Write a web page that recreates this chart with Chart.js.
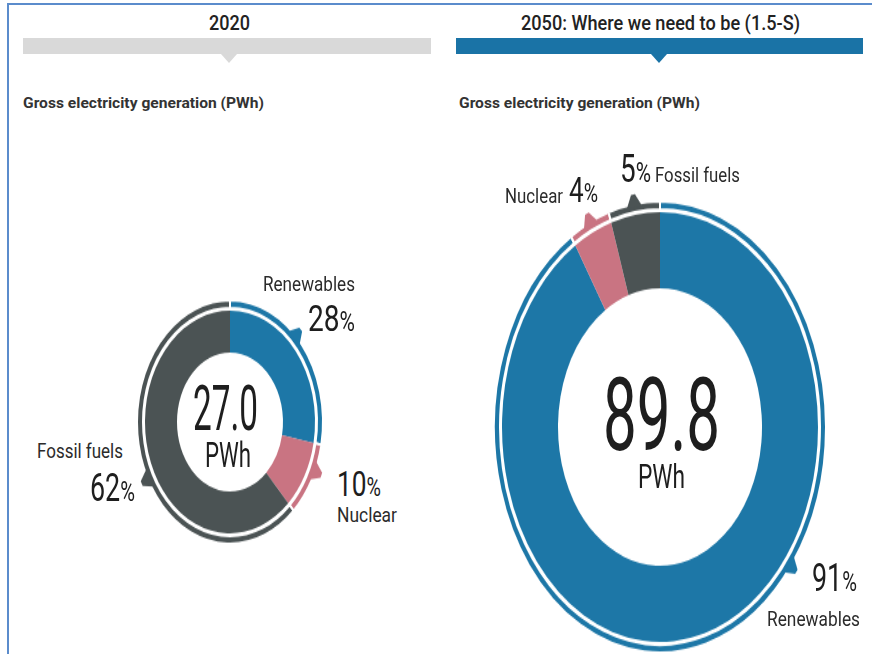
<!doctype html>
<html lang="en">
<head>
  <meta charset="utf-8">
  <title>Gross electricity generation 2020 vs 2050</title>
  <script src="https://cdn.jsdelivr.net/npm/chart.js@4"></script>
  <style>
    body { margin: 0; width: 872px; height: 654px; overflow: hidden; background: #fff; position: relative;
           font-family: Roboto, "Liberation Sans", sans-serif; }
    .frame-left { position: absolute; left: 7px; top: 3px; width: 2px; height: 651px; background: #5b8ccc; }
    .frame-top { position: absolute; left: 7px; top: 3px; width: 865px; height: 2px; background: #5b8ccc; }
    .bar { position: absolute; top: 38px; height: 16px; }
    .tri { position: absolute; top: 54px; width: 16px; height: 9px; clip-path: polygon(0 0, 100% 0, 50% 100%); }
    .grey { background: #d9d9d9; }
    .blue { background: #1a73a6; }
    .wrap { position: absolute; transform-origin: 0 0; }
    .lbl { position: absolute; white-space: nowrap; line-height: 1; color: #2b2b2b; transform-origin: 0 0; }
    .lbl .pc { font-size: 0.75em; }
    .title { font-weight: 500; color: #222; }
    .sub { font-weight: bold; color: #333; }
    .num { color: #1e1e1e; }
  </style>
</head>
<body>
  <div class="frame-top"></div>
  <div class="frame-left"></div>

  <div class="bar grey" style="left:23px; width:408px"></div>
  <div class="tri grey" style="left:221px"></div>
  <div class="bar blue" style="left:456px; width:407px"></div>
  <div class="tri blue" style="left:651px"></div>

  <div class="wrap" style="left:130px; top:291px; transform:scaleY(1.31)">
    <canvas id="c2020" width="200" height="200"></canvas>
  </div>
  <div class="wrap" style="left:485px; top:189px; transform:scaleY(1.36)">
    <canvas id="c2050" width="350" height="350"></canvas>
  </div>

  <script>
    const categories = ['Renewables', 'Nuclear', 'Fossil fuels'];
    const share2020 = [28, 10, 62];
    const share2050 = [91, 4, 5];
    const total2020 = 27.0;
    const total2050 = 89.8;
    const unit = 'PWh';
    const years = ['2020', '2050: Where we need to be (1.5-S)'];
    const subtitle = 'Gross electricity generation (PWh)';

    const colors = ['#1d77a7', '#c97482', '#4b5354'];
    // angle (deg clockwise from 12 o'clock) of each little callout tab
    const tabAngle2020 = [45, 114, 242];
    const tabAngle2050 = [128, 335, 351];

    const tabs = {
      id: 'tabs',
      afterDatasetsDraw(chart, args, opts) {
        const ctx = chart.ctx;
        const arcs = chart.getDatasetMeta(0).data;
        arcs.forEach((arc, i) => {
          const a = (opts.angles[i] - 90) * Math.PI / 180;
          const R = arc.outerRadius;
          const ux = Math.cos(a), uy = Math.sin(a);
          const tx = -uy, ty = ux;
          const hw = 8;
          ctx.save();
          ctx.fillStyle = colors[i];
          ctx.beginPath();
          ctx.moveTo(arc.x + ux * (R - 3) - tx * hw, arc.y + uy * (R - 3) - ty * hw);
          ctx.lineTo(arc.x + ux * (R - 3) + tx * hw, arc.y + uy * (R - 3) + ty * hw);
          ctx.lineTo(arc.x + ux * (R + 7) + tx * 2, arc.y + uy * (R + 7) + ty * 2);
          ctx.lineTo(arc.x + ux * (R + 7) - tx * 2, arc.y + uy * (R + 7) - ty * 2);
          ctx.closePath();
          ctx.fill();
          ctx.restore();
        });
      }
    };

    function donut(id, values, R, inner, angles) {
      const main = R - inner - 8;
      new Chart(document.getElementById(id), {
        type: 'doughnut',
        data: {
          labels: categories,
          datasets: [
            { data: values, backgroundColor: colors, borderColor: '#fff', borderWidth: 2, weight: 6 },
            { data: values, backgroundColor: 'rgba(0,0,0,0)', borderWidth: 0, weight: 2 },
            { data: values, backgroundColor: colors, borderWidth: 0, weight: main }
          ]
        },
        options: {
          responsive: false,
          animation: false,
          events: [],
          radius: R,
          cutout: (inner / R * 100) + '%',
          plugins: { legend: { display: false }, tooltip: { enabled: false }, tabs: { angles: angles } }
        },
        plugins: [tabs]
      });
    }

    donut('c2020', share2020, 93, 53, tabAngle2020);
    donut('c2050', share2050, 166, 102, tabAngle2050);

    // text box: left, right, cap top, baseline (page pixels)
    function place(html, x0, x1, capTop, base, cls) {
      const el = document.createElement('div');
      el.className = 'lbl ' + (cls || '');
      el.innerHTML = html;
      const fs = (base - capTop) / 0.711;
      el.style.fontSize = fs + 'px';
      el.style.left = x0 + 'px';
      el.style.top = (base - 0.842 * fs) + 'px';
      document.body.appendChild(el);
      const w = el.getBoundingClientRect().width;
      el.style.transform = 'scaleX(' + ((x1 - x0) / w) + ')';
    }
    const pct = v => v + '<span class="pc">%</span>';

    place(years[0], 209, 250, 15, 30, 'title');
    place(years[1], 521, 800, 15, 30, 'title');
    place(subtitle, 23, 264, 98, 109, 'sub');
    place(subtitle, 459, 700, 98, 109, 'sub');

    place(categories[0], 263, 355, 278, 292);
    place(pct(share2020[0]), 308, 355, 306, 332, 'num');
    place(pct(share2020[1]), 337, 381, 472, 497, 'num');
    place(categories[1], 337, 397, 509, 523);
    place(categories[2], 37, 123, 445, 459);
    place(pct(share2020[2]), 90, 135, 475, 502, 'num');
    place(total2020.toFixed(1), 193, 258, 385, 430, 'num');
    place(unit, 205, 251, 443, 468, 'num');

    place(categories[1], 505, 563, 188, 203);
    place(pct(share2050[1]), 569, 598, 178, 203, 'num');
    place(pct(share2050[2]), 620, 651, 156, 183, 'num');
    place(categories[2], 655, 740, 169, 183);
    place(pct(share2050[0]), 812, 857, 565, 592, 'num');
    place(categories[0], 767, 860, 611, 626);
    place(total2050.toFixed(1), 603, 720, 377, 450, 'num');
    place(unit, 638, 685, 465, 488, 'num');
  </script>
</body>
</html>
